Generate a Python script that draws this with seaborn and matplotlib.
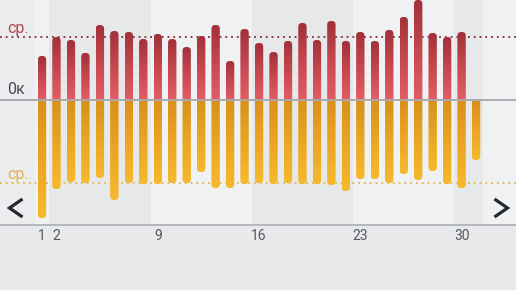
import numpy as np
import pandas as pd
import matplotlib
matplotlib.use("Agg")
import matplotlib.pyplot as plt
import matplotlib.transforms as mtrans
from matplotlib.colors import LinearSegmentedColormap
from matplotlib.patches import FancyBboxPatch
from matplotlib.lines import Line2D
import seaborn as sns

# ---- data ----
days = list(range(1, 32))
income = [44, 63, 60, 47, 75, 69, 68, 61, 66, 61, 53, 64, 75, 39, 71,
          57, 48, 59, 77, 60, 79, 59, 68, 59, 70, 83, 100, 67, 63, 68, np.nan]
expense = [118, 89, 82, 83, 78, 100, 83, 84, 84, 83, 83, 72, 88, 88, 84,
           83, 84, 83, 84, 84, 85, 91, 79, 79, 83, 74, 80, 71, 84, 88, 60]
income_avg = 63
expense_avg = 83
tick_days = [1, 2, 9, 16, 23, 30]
week_starts = [2, 9, 16, 23, 30]
zero_label = "0к"
avg_label = "ср."

sns.set_theme(style="white")
plt.rcParams['font.family'] = ['Roboto', 'DejaVu Sans']

W, H = 516, 290
fig = plt.figure(figsize=(W / 100, H / 100), dpi=100, facecolor="#e8e9eb")
ax = fig.add_axes([0, 65 / H, 1, 225 / H])
ax.set_facecolor("#eaecee")

df = pd.DataFrame({"day": [str(d) for d in days],
                   "income": income,
                   "expense": [-e for e in expense]})

sns.barplot(data=df, x="day", y="income", color="#c0404a", width=0.58,
            ax=ax, zorder=3)
inc_patches = list(ax.patches)
sns.barplot(data=df, x="day", y="expense", color="#e9a020", width=0.58,
            ax=ax, zorder=3)
exp_patches = [p for p in ax.patches if p not in inc_patches]

ax.set_xlim(-2.903, 32.76)
ax.set_ylim(-125, 100)

# weekly background bands
ax.axvspan(-0.5, 0.5, color="#f0f1f3", zorder=0, lw=0)
shade = ["#e6e8ea", "#f0f1f3"]
for k, ws in enumerate(week_starts):
    ax.axvspan(ws - 1 - 0.5, min(ws - 1 + 6.5, len(days) - 0.5),
               color=shade[k % 2], zorder=0, lw=0)
ax.axvspan(len(days) - 0.5, 40, color="#eff1f3", zorder=0, lw=0)

# pixel aspect for rounded ends
fig.canvas.draw()
p0 = ax.transData.transform((0, 0))
p1 = ax.transData.transform((1, 1))
asp = (p1[0] - p0[0]) / (p1[1] - p0[1])

red_cmap = LinearSegmentedColormap.from_list("r", ["#e35d66", "#c5474f", "#a2313a"])
org_cmap = LinearSegmentedColormap.from_list("o", ["#f6b92c", "#eba624", "#d8911a"])
grad = np.linspace(0, 1, 256).reshape(-1, 1)


def gradient_bar(p, is_income):
    h = p.get_height()
    p.set_visible(False)
    if not np.isfinite(h) or h == 0:
        return
    x0, w, y0 = p.get_x(), p.get_width(), p.get_y()
    r = w * 0.45
    if is_income:
        bot, top = y0, y0 + h
        cmap = red_cmap
        clip = FancyBboxPatch((x0, bot - 20), w, (top - bot) + 20,
                              boxstyle=f"round,pad=0,rounding_size={r}",
                              mutation_aspect=asp, transform=ax.transData)
    else:
        bot, top = y0 + h, -1.5
        cmap = org_cmap
        clip = FancyBboxPatch((x0, bot), w, (top - bot) + 20,
                              boxstyle=f"round,pad=0,rounding_size={r}",
                              mutation_aspect=asp, transform=ax.transData)
    im = ax.imshow(grad, extent=(x0, x0 + w, bot, top), origin="lower",
                   aspect="auto", cmap=cmap, zorder=3, interpolation="bilinear")
    im.set_clip_path(clip)


for p in inc_patches:
    gradient_bar(p, True)
for p in exp_patches:
    gradient_bar(p, False)

ax.set_xlim(-2.903, 32.76)
ax.set_ylim(-125, 100)

# reference lines
ax.axhline(0, color="#a3a6ab", lw=1.3, zorder=4)
ax.axhline(income_avg, color="#7d2b31", lw=1.3, ls=(0, (1, 2.2)), zorder=2)
ax.axhline(-expense_avg, color="#e5b54a", lw=1.3, ls=(0, (1, 2.2)), zorder=2)

blend = mtrans.blended_transform_factory(ax.transAxes, ax.transData)
ax.text(7 / W, 3, zero_label, transform=blend, ha="left", va="bottom",
        fontsize=11.5, color="#4b4e53")
ax.text(7 / W, income_avg + 1.5, avg_label, transform=blend, ha="left",
        va="bottom", fontsize=11.5, color="#b5474e")
ax.text(7 / W, -expense_avg + 1.5, avg_label, transform=blend, ha="left",
        va="bottom", fontsize=11.5, color="#e2b24c")

# navigation chevrons (icons, drawn in figure pixel space)
def chevron(cx, cy, direction):
    dx = 6.5 * direction
    xs = [cx + dx, cx - dx, cx + dx]
    ys = [cy - 9, cy, cy + 9]
    fig.add_artist(Line2D([x / W for x in xs], [1 - y / H for y in ys],
                          transform=fig.transFigure, color="#25292d",
                          lw=2.3, solid_joinstyle="miter",
                          solid_capstyle="butt", zorder=10))


chevron(16, 208, 1)
chevron(501, 208, -1)

# axis styling
for s in ["top", "left", "right"]:
    ax.spines[s].set_visible(False)
ax.spines["bottom"].set_color("#b3b6ba")
ax.spines["bottom"].set_linewidth(1.4)
ax.set_yticks([])
ax.set_xticks([d - 1 for d in tick_days])
ax.set_xticklabels([str(d) for d in tick_days])
ax.tick_params(axis="x", length=0, pad=3, labelsize=10, labelcolor="#55595e")
ax.set_xlabel("")
ax.set_ylabel("")

fig.savefig("out.png", dpi=100, facecolor=fig.get_facecolor())
